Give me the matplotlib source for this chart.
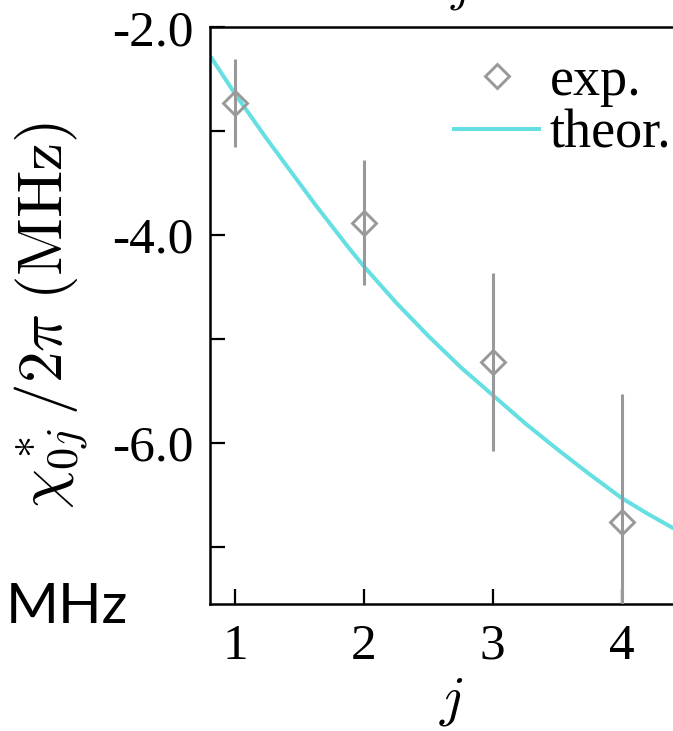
import numpy as np
import matplotlib
matplotlib.use('Agg')
import matplotlib.pyplot as plt

plt.rcParams['font.family'] = 'Liberation Serif'
plt.rcParams['mathtext.fontset'] = 'cm'
plt.rcParams['axes.unicode_minus'] = False

# measured dispersive shifts (MHz) with error bars
j_exp = [1, 2, 3, 4]
chi_exp = [-2.73, -3.88, -5.22, -6.76]
chi_err = [0.42, 0.60, 0.86, 1.23]

# theory curve samples
j_theo = [0.82, 1.0, 1.125, 1.25, 1.375, 1.5, 1.625, 1.75, 1.875, 2.0, 2.25, 2.5, 2.75,
          3.0, 3.25, 3.5, 3.75, 4.0, 4.2, 4.4]
chi_theo = [-2.30, -2.64, -2.86, -3.08, -3.29, -3.50, -3.71, -3.91, -4.11, -4.30, -4.65,
            -4.97, -5.27, -5.54, -5.81, -6.06, -6.30, -6.53, -6.68, -6.82]

gray = '#999999'
cyan = '#66dfe2'

fig = plt.figure(figsize=(6.73, 7.31), dpi=100)
ax = fig.add_axes([0.312, 0.1737, 0.717, 0.789])

ax.plot(j_theo, chi_theo, color=cyan, lw=2.9, label='theor.', zorder=2)
ax.errorbar(j_exp, chi_exp, yerr=chi_err, fmt='none', ecolor=gray, elinewidth=2.2, zorder=3)
ax.plot(j_exp, chi_exp, linestyle='none', marker='D', markersize=12.5, markerfacecolor='none',
        markeredgecolor=gray, markeredgewidth=2.1, label='exp.', zorder=4)

ax.set_xlim(0.806, 4.55)
ax.set_ylim(-7.55, -2.0)

ax.set_xticks([1, 2, 3, 4])
ax.set_yticks([-2, -4, -6])
ax.set_yticklabels(['-2.0', '-4.0', '-6.0'])
ax.set_yticks([-3, -5, -7], minor=True)
ax.tick_params(which='both', direction='in', length=10.5, width=1.6, labelsize=37, pad=12,
               top=False, right=False)
ax.tick_params(axis='x', pad=14)

for s in ax.spines.values():
    s.set_linewidth(1.8)
ax.spines['right'].set_visible(False)

ax.set_xlabel('$j$', fontsize=40, labelpad=4)
ax.set_ylabel(r'$\chi^*_{0j}\,/2\pi\;(\mathrm{MHz})$', fontsize=45.5, labelpad=15)

h, l = ax.get_legend_handles_labels()
ax.legend([h[1], h[0]], [l[1], l[0]], loc='upper right', bbox_to_anchor=(0.998, 0.923),
          bbox_transform=fig.transFigure, frameon=False, fontsize=39, handlelength=1.57,
          handletextpad=0.2, labelspacing=0.05, borderpad=0, borderaxespad=0)

# subscript of the panel title above, cut by the frame
fig.text(0.685, 0.999, '$j$', fontsize=34, va='baseline', ha='center')

fig.text(0.008, 0.148, 'MHz', fontsize=41, family='Lato', va='baseline', ha='left')

fig.savefig('out.png', dpi=100, facecolor='white')
